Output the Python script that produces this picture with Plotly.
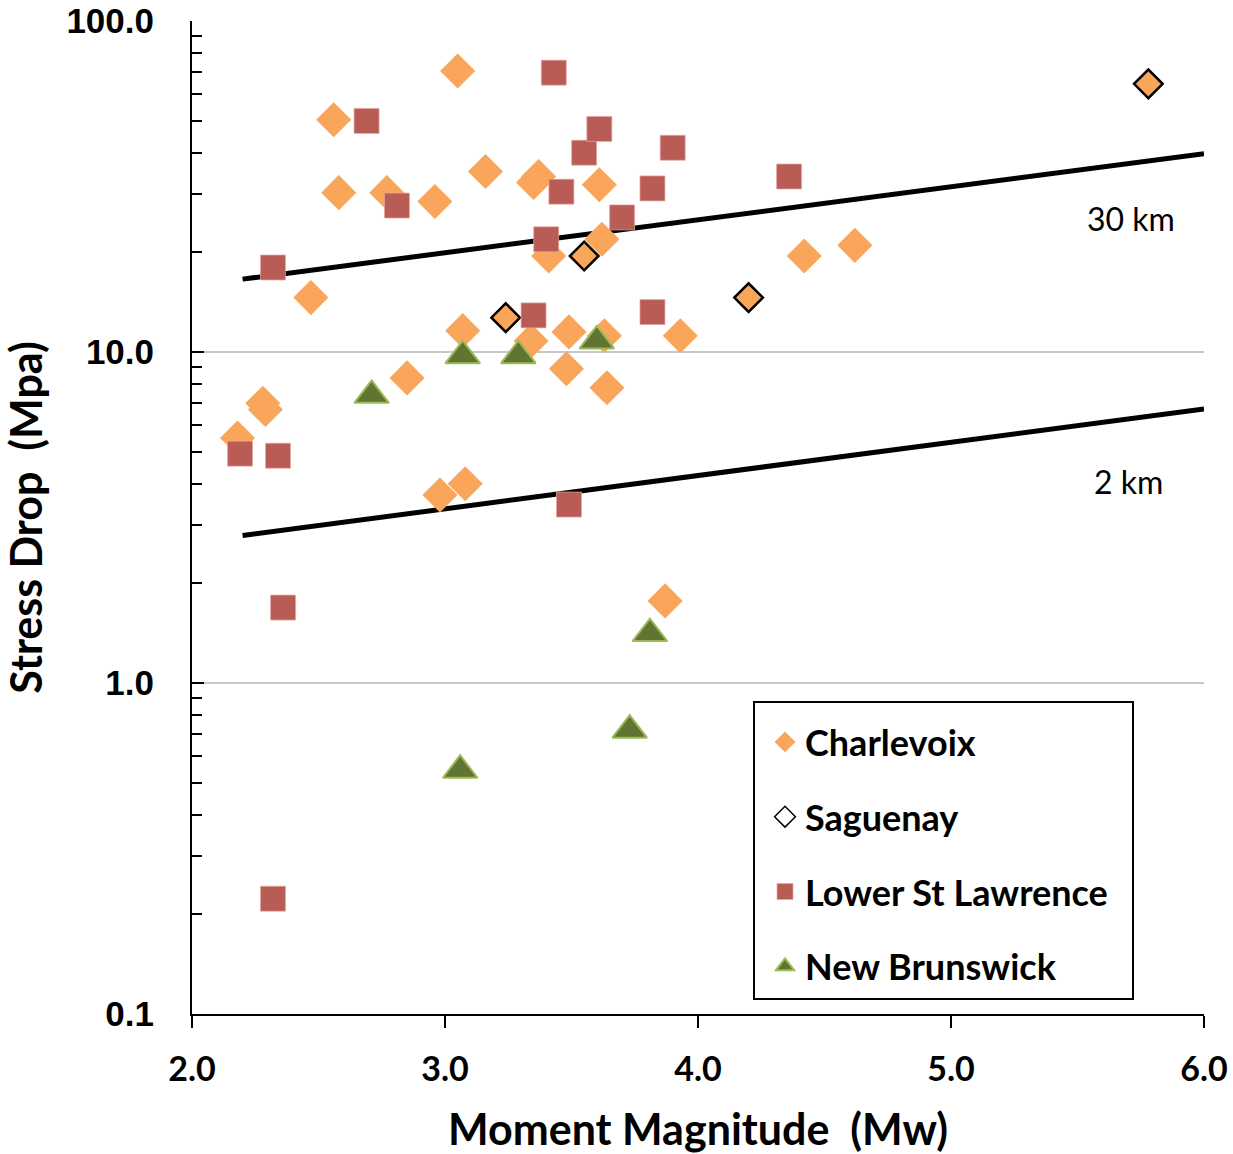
import math
import plotly.graph_objects as go

# ---------------- data ----------------
charlevoix_mw = [2.18, 2.28, 2.29, 2.47, 2.56, 2.58, 2.77, 2.85, 2.96, 3.05, 3.07, 2.98, 3.08,
                 3.16, 3.35, 3.37, 3.34, 3.41, 3.49, 3.48, 3.61, 3.62, 3.63, 3.64, 3.87, 3.93,
                 4.42, 4.62]
charlevoix_sd = [5.5, 7.0, 6.7, 14.6, 50.3, 30.3, 30.3, 8.35, 28.5, 70.6, 11.6, 3.7, 4.0,
                 35.1, 32.5, 33.9, 10.8, 19.5, 11.5, 8.9, 32.0, 21.9, 11.2, 7.8, 1.77, 11.2,
                 19.5, 21.0]

saguenay_mw = [3.24, 3.55, 4.20, 5.78]
saguenay_sd = [12.7, 19.5, 14.6, 64.6]

lsl_mw = [2.19, 2.34, 2.36, 2.32, 2.32, 2.69, 2.81, 3.43, 3.35, 3.40, 3.46, 3.55, 3.61, 3.70,
          3.82, 3.90, 3.82, 3.49, 4.36]
lsl_sd = [4.93, 4.86, 1.69, 0.223, 18.0, 49.9, 27.7, 69.8, 12.9, 21.9, 30.5, 40.0, 47.2, 25.5,
          31.2, 41.4, 13.2, 3.46, 33.9]

nb_mw = [2.71, 3.07, 3.29, 3.60, 3.81, 3.73, 3.06]
nb_sd = [7.4, 9.75, 9.75, 10.8, 1.41, 0.72, 0.545]

line30_mw = [2.2, 6.0]
line30_sd = [16.6, 39.7]
line2_mw = [2.2, 6.0]
line2_sd = [2.79, 6.73]

line_labels = ["30 km", "2 km"]
line_label_mw = [5.71, 5.70]
line_label_sd = [25.4, 4.05]

y_tickvals = [0.1, 1, 10, 100]
y_ticktext = ["0.1", "1.0", "10.0", "100.0"]
x_tickvals = [2, 3, 4, 5, 6]
x_ticktext = ["2.0", "3.0", "4.0", "5.0", "6.0"]

ORANGE = "#F9A65A"
RED = "#B95C55"
GREEN = "#617532"
GREEN_EDGE = "#9BBB59"
BOLD = "Lato"

fig = go.Figure()

# model lines (drawn first, under markers)
fig.add_trace(go.Scatter(x=line30_mw, y=line30_sd, mode="lines",
                         line=dict(color="black", width=5), showlegend=False, hoverinfo="skip"))
fig.add_trace(go.Scatter(x=line2_mw, y=line2_sd, mode="lines",
                         line=dict(color="black", width=5), showlegend=False, hoverinfo="skip"))

fig.add_trace(go.Scatter(x=charlevoix_mw, y=charlevoix_sd, mode="markers", name="Charlevoix",
                         legendgroup="a",
                         marker=dict(symbol="diamond", size=27, color=ORANGE,
                                     line=dict(color=ORANGE, width=0))))
fig.add_trace(go.Scatter(x=saguenay_mw, y=saguenay_sd, mode="markers", name="Saguenay",
                         legendgroup="b", showlegend=False,
                         marker=dict(symbol="diamond", size=22, color=ORANGE,
                                     line=dict(color="black", width=2.5))))
# legend entry for Saguenay (hollow marker as in the original legend)
fig.add_trace(go.Scatter(x=[None], y=[None], mode="markers", name="Saguenay",
                         legendgroup="b",
                         marker=dict(symbol="diamond", size=16, color="white",
                                     line=dict(color="black", width=1.5))))
fig.add_trace(go.Scatter(x=lsl_mw, y=lsl_sd, mode="markers", name="Lower St Lawrence",
                         legendgroup="c",
                         marker=dict(symbol="square", size=25, color=RED,
                                     line=dict(color="rgba(230,170,165,0.7)", width=1))))
fig.add_trace(go.Scatter(x=nb_mw, y=nb_sd, mode="markers", name="New Brunswick",
                         legendgroup="d",
                         marker=dict(symbol="triangle-up", size=30, color=GREEN,
                                     line=dict(color=GREEN_EDGE, width=2))))

# line labels (log axis: annotation y in log10 units)
for t, xm, ys in zip(line_labels, line_label_mw, line_label_sd):
    fig.add_annotation(x=xm, y=math.log10(ys), text=t, showarrow=False,
                       font=dict(family="Lato", size=32, color="black"))

# legend frame
fig.add_shape(type="rect", xref="paper", yref="paper",
              x0=(754 - 192) / 1012, x1=(1133 - 192) / 1012,
              y0=(1014 - 999) / 993, y1=(1014 - 702) / 993,
              line=dict(color="black", width=2), fillcolor="rgba(0,0,0,0)", layer="above")

fig.update_xaxes(range=[2, 6], tickvals=x_tickvals, ticktext=x_ticktext,
                 ticks="outside", ticklen=12, tickwidth=2, tickcolor="black",
                 showline=True, linecolor="black", linewidth=2,
                 showgrid=False, zeroline=False, automargin=False,
                 ticklabelstandoff=12,
                 tickfont=dict(family=BOLD, size=34, color="black", weight="bold"),
                 title=dict(text="Moment Magnitude  (Mw)", standoff=31,
                            font=dict(family=BOLD, size=43, color="black", weight="bold")))
fig.update_yaxes(type="log", range=[-1, 2], tickvals=y_tickvals, ticktext=y_ticktext,
                 ticks="inside", ticklen=12, tickwidth=2, tickcolor="black",
                 minor=dict(ticks="inside", ticklen=10, tickwidth=2, tickcolor="black",
                            dtick="D1", showgrid=False),
                 showline=True, linecolor="black", linewidth=2,
                 showgrid=True, gridcolor="#C8C8C8", gridwidth=1.5, zeroline=False,
                 automargin=False,
                 ticklabelstandoff=29,
                 tickfont=dict(family="Liberation Sans", size=35, color="black", weight="bold"),
                 title=dict(text="Stress Drop  (Mpa)", standoff=17,
                            font=dict(family=BOLD, size=43, color="black", weight="bold")))

fig.update_layout(
    width=1233, height=1154,
    margin=dict(l=192, r=29, t=21, b=140),
    plot_bgcolor="white", paper_bgcolor="white",
    showlegend=True,
    legend=dict(x=(765 - 192) / 1012, y=(1014 - 712) / 993, xanchor="left", yanchor="top",
                borderwidth=0, bgcolor="rgba(0,0,0,0)",
                font=dict(family=BOLD, size=36, color="black", weight="bold"),
                traceorder="grouped", tracegroupgap=25, itemsizing="trace"),
)

fig.write_html("out.html")
